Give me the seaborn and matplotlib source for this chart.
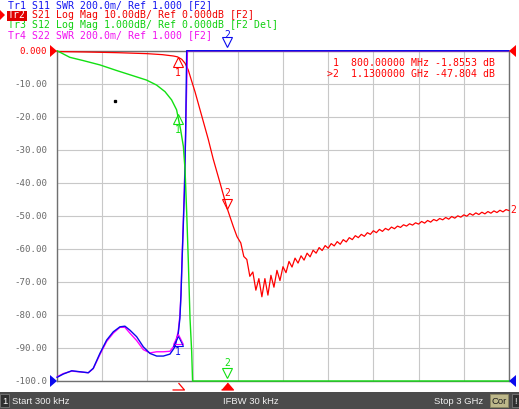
import numpy as np
import matplotlib
matplotlib.use("Agg")
import matplotlib.pyplot as plt
from matplotlib.patches import Polygon, Rectangle
from matplotlib.transforms import offset_copy, blended_transform_factory
import seaborn as sns

W, H = 519, 409

# sweep 300 kHz .. 3 GHz (MHz)
f_start, f_stop = 0.3, 3000.0

# Tr2 S21 Log Mag, 10 dB/div, ref 0 dB at top
s21_f = [0.3, 200, 400, 600, 700, 772, 800, 828, 850, 871, 894, 916, 938, 960, 982, 1004, 1037, 1082, 1130, 1170, 1195,
         1220, 1240, 1260, 1280, 1300, 1320, 1340, 1360, 1380, 1400,
         1420, 1440, 1460, 1480, 1500, 1520, 1540, 1560, 1580, 1600,
         1620, 1640, 1660, 1680, 1700, 1720, 1740, 1760, 1780, 1800,
         1820, 1840, 1860, 1880, 1900, 1920, 1940, 1960, 1980, 2000,
         2020, 2040, 2060, 2080, 2100, 2120, 2140, 2160, 2180, 2200,
         2220, 2240, 2260, 2280, 2300, 2320, 2340, 2360, 2380, 2400,
         2420, 2440, 2460, 2480, 2500, 2520, 2540, 2560, 2580, 2600,
         2620, 2640, 2660, 2680, 2700, 2720, 2740, 2760, 2780, 2800,
         2820, 2840, 2860, 2880, 2900, 2920, 2940, 2960, 2980, 3000]
s21_db = [-0.25, -0.4, -0.6, -0.9, -1.2, -1.6, -1.86, -2.6, -3.8, -5.8, -9.2, -12.4, -16.0, -19.6, -23.2, -26.8,
          -32.8, -40.0, -47.8, -53.2, -56.3,
          -58.2, -62.3, -63.2, -68.3, -67.0, -72.5, -69.0, -74.5, -69.0, -74.0,
          -68.0, -71.6, -66.5, -69.6, -65.4, -67.2, -63.8, -65.5, -62.8, -64.3,
          -62.1, -63.4, -61.3, -62.4, -60.4, -61.3, -59.6, -60.5, -59.0, -59.8,
          -58.4, -59.1, -57.8, -58.6, -57.2, -57.9, -56.6, -57.2, -56.0, -56.6,
          -55.6, -56.2, -55.1, -55.6, -54.5, -55.1, -54.1, -54.7, -53.8, -54.3,
          -53.4, -53.9, -53.1, -53.5, -52.7, -53.1, -52.4, -52.8, -52.1, -52.5,
          -51.7, -52.2, -51.4, -51.9, -51.1, -51.5, -50.8, -51.2, -50.5, -51.0,
          -50.2, -50.7, -50.0, -50.4, -49.7, -50.1, -49.3, -49.8, -49.1, -49.6,
          -48.9, -49.4, -48.7, -49.2, -48.5, -49.0, -48.3, -48.8, -48.1, -48.4]

# Tr3 S12 Log Mag, 1 dB/div, ref 0 dB at top
s12_f = [0.3, 85, 175, 285, 396, 506, 595, 661, 717, 761, 794, 821, 839, 850, 861, 872, 883, 894, 900, 910, 1000, 3000]
s12_db = [0.0, -0.2, -0.3, -0.43, -0.6, -0.76, -0.89, -1.04, -1.24, -1.49, -1.79, -2.4, -2.9, -3.6, -4.9, -6.4,
          -8.1, -9.1, -10.0, -12.0, -20.0, -20.0]

# Tr1 S11 / Tr4 S22 SWR, 200m/div, ref 1.000 at bottom
s11_f = [0.3, 42, 98, 153, 208, 241, 285, 330, 374, 418, 451, 484, 529, 573, 617, 662, 706, 750, 783, 805,
         816, 823, 830, 838, 846, 854, 858, 861, 870, 1000, 3000]
s11_swr = [1.022, 1.042, 1.062, 1.056, 1.05, 1.077, 1.167, 1.248, 1.298, 1.328, 1.332, 1.308, 1.268, 1.207, 1.167,
           1.151, 1.151, 1.163, 1.207, 1.288, 1.38, 1.52, 1.72, 1.93, 2.15, 2.5, 2.8, 3.05, 3.6, 5.0, 5.0]
s22_f = [0.3, 42, 98, 153, 208, 241, 285, 330, 374, 418, 451, 484, 529, 573, 617, 662, 706, 750, 783, 805,
         816, 823, 830, 838, 846, 854, 860, 866, 870, 1000, 3000]
s22_swr = [1.025, 1.045, 1.06, 1.055, 1.05, 1.075, 1.16, 1.24, 1.29, 1.325, 1.325, 1.29, 1.245, 1.19, 1.17,
           1.177, 1.177, 1.18, 1.22, 1.3, 1.4, 1.52, 1.73, 1.95, 2.18, 2.5, 2.75, 3.05, 3.6, 5.0, 5.0]

marker_f = [800, 1130]

header = [
    ("Tr1 S11 SWR 200.0m/ Ref 1.000 [F2]", "#1414f0", 8),
    ("S21 Log Mag 10.00dB/ Ref 0.000dB [F2]", "#f00000", 31.8),
    ("Tr3 S12 Log Mag 1.000dB/ Ref 0.000dB [F2 Del]", "#10d010", 8),
    ("Tr4 S22 SWR 200.0m/ Ref 1.000 [F2]", "#f010f0", 8),
]
readout = ["1  800.00000 MHz -1.8553 dB", ">2  1.1300000 GHz -47.804 dB"]
ylabels = ["-100.0", "-90.00", "-80.00", "-70.00", "-60.00", "-50.00", "-40.00", "-30.00", "-20.00", "-10.00", "0.000"]

RED, GREEN, BLUE, MAG = "#ff0000", "#12e012", "#0a0aee", "#ff00ff"
GRAY = "#6a6a6a"

sns.set_style("white")
plt.rcParams["font.family"] = ["DejaVu Sans Mono"]

fig = plt.figure(figsize=(W / 100, H / 100), dpi=100)
ax = fig.add_axes([57 / W, 1 - 381 / H, 452 / W, 330.3 / H])
ax_swr = ax.twinx()
ax_s12 = ax.twinx()

sns.lineplot(x=s12_f, y=np.clip(s12_db, -10, 0), ax=ax_s12, color=GREEN, lw=1.0,
             estimator=None, sort=False, clip_on=False, zorder=3)
sns.lineplot(x=s22_f, y=np.clip(s22_swr, 1, 3), ax=ax_swr, color=MAG, lw=1.0,
             estimator=None, sort=False, clip_on=False, zorder=3)
sns.lineplot(x=s11_f, y=np.clip(s11_swr, 1, 3), ax=ax_swr, color=BLUE, lw=1.0,
             estimator=None, sort=False, clip_on=False, zorder=4)
sns.lineplot(x=s21_f, y=s21_db, ax=ax, color=RED, lw=0.9,
             estimator=None, sort=False, clip_on=False, zorder=3)

ax.set_xlim(f_start, f_stop)
ax.set_ylim(-100, 0)
ax_swr.set_ylim(1, 3)
ax_s12.set_ylim(-10, 0)

ax.set_xticks(np.linspace(f_start, f_stop, 11))
ax.set_xticklabels([])
ax.set_yticks(np.linspace(-100, 0, 11))
ax.set_yticklabels(ylabels, fontsize=6.6, color=GRAY)
ax.get_yticklabels()[-1].set_color(RED)
ax.tick_params(length=0, pad=7)
ax.grid(True, color="#c8c8c8", lw=0.8)
ax.set_axisbelow(True)
for sp in ax.spines.values():
    sp.set_color("#707070")
    sp.set_linewidth(1.0)
for t in (ax_swr, ax_s12):
    t.set_yticks([])
    t.tick_params(length=0)
    for sp in t.spines.values():
        sp.set_visible(False)

# stray pixel in the screen shot
ax.plot([385], [-15.2], marker="s", ms=1.4, color="black", lw=0)


def trace_marker(a, x, y, color, label, below, tri_off=3.6, txt_off=11.5):
    sign = -1 if below else 1
    tri = offset_copy(a.transData, fig=fig, x=0, y=sign * tri_off, units="points")
    a.plot([x], [y], marker="^" if below else "v", ms=7, mfc="none", mec=color, mew=0.8,
           lw=0, transform=tri, clip_on=False, zorder=8)
    if label:
        a.annotate(label, (x, y), xytext=(0, sign * txt_off), textcoords="offset points",
                   ha="center", va="center", color=color, fontsize=7, annotation_clip=False, zorder=8)


m1, m2 = marker_f
trace_marker(ax, m1, np.interp(m1, s21_f, s21_db), RED, "1", True)
trace_marker(ax_s12, m1, np.interp(m1, s12_f, s12_db), GREEN, "1", True)
trace_marker(ax_swr, m1, np.interp(m1, s22_f, s22_swr), MAG, "", True)
trace_marker(ax_swr, m1, np.interp(m1, s11_f, s11_swr), BLUE, "1", True)
trace_marker(ax, m2, np.interp(m2, s21_f, s21_db), RED, "2", False)
trace_marker(ax_swr, m2, min(np.interp(m2, s11_f, s11_swr), 3), BLUE, "2", False, tri_off=6.2, txt_off=11.0)
trace_marker(ax_s12, m2, max(np.interp(m2, s12_f, s12_db), -10), GREEN, "2", False, tri_off=5.6, txt_off=13.0)

# stimulus markers under the grid
bt = offset_copy(blended_transform_factory(ax.transData, ax.transAxes), fig=fig, y=-4.5, units="dots")
tri_up = [(-6, -3.5), (6, -3.5), (0, 3.5)]
ax.plot([m1], [0], marker=tri_up, ms=8.6, mfc="white", mec=RED, mew=0.9, lw=0,
        transform=bt, clip_on=False, zorder=8)
ax.plot([m2], [0], marker=tri_up, ms=8.6, mfc=RED, mec=RED, mew=0.9, lw=0,
        transform=bt, clip_on=False, zorder=8)


def px(x, y):
    return (x / W, 1 - y / H)


def poly(pts, color):
    fig.add_artist(Polygon([px(*p) for p in pts], closed=True, transform=fig.transFigure,
                           fc=color, ec="none", zorder=10))


# reference position arrows
poly([(50, 45), (50, 57), (57, 51)], RED)
poly([(516, 45), (516, 57), (509, 51)], RED)
poly([(50, 375), (50, 387), (57, 381)], BLUE)
poly([(516, 375), (516, 387), (509, 381)], BLUE)

# trace header
for i, (txt, col, x0) in enumerate(header):
    fig.text(*px(x0, 5.5 + 10 * i), txt, color=col, fontsize=7.1, va="center", ha="left")
poly([(0, 10), (0, 20), (5, 15)], RED)
fig.add_artist(Rectangle(px(7, 20.5), 20 / W, 10 / H, transform=fig.transFigure, fc="#e00000", ec="none", zorder=9))
fig.text(*px(8, 15.5), "Tr2", color="white", fontsize=7.1, va="center", ha="left", zorder=10)

# marker readout
for i, txt in enumerate(readout):
    fig.text(*px(495, 63.5 + 10.5 * i), txt, color=RED, fontsize=7.1, va="center", ha="right")

fig.text(*px(510, 210), "2", color=RED, fontsize=7, va="center", ha="left")

# status bar
fig.add_artist(Rectangle((0, 0), 1, 17 / H, transform=fig.transFigure, fc="#4b4b4b", ec="none", zorder=5))
fig.add_artist(Rectangle(px(0, 407), 9 / W, 13 / H, transform=fig.transFigure, fc="#2f2f2f",
                         ec="#777777", lw=0.6, zorder=6))
fig.add_artist(Rectangle(px(490, 407), 18 / W, 13 / H, transform=fig.transFigure, fc="#bdb88a",
                         ec="#8a8660", lw=0.6, zorder=6))
fig.add_artist(Rectangle(px(512, 407), 7 / W, 13 / H, transform=fig.transFigure, fc="#2f2f2f",
                         ec="#777777", lw=0.6, zorder=6))
bar = dict(fontsize=6.8, va="center", family="Liberation Sans", zorder=7)
fig.text(*px(4.5, 401), "1", color="white", ha="center", **bar)
fig.text(*px(12, 401), "Start 300 kHz", color="#f0f0f0", ha="left", **bar)
fig.text(*px(251, 401), "IFBW 30 kHz", color="#f0f0f0", ha="center", **bar)
fig.text(*px(483, 401), "Stop 3 GHz", color="#f0f0f0", ha="right", **bar)
fig.text(*px(499, 401), "Cor", color="#1e1e1e", ha="center", **bar)
fig.text(*px(515.5, 401), "!", color="white", ha="center", **bar)

fig.savefig("out.png", dpi=100)
